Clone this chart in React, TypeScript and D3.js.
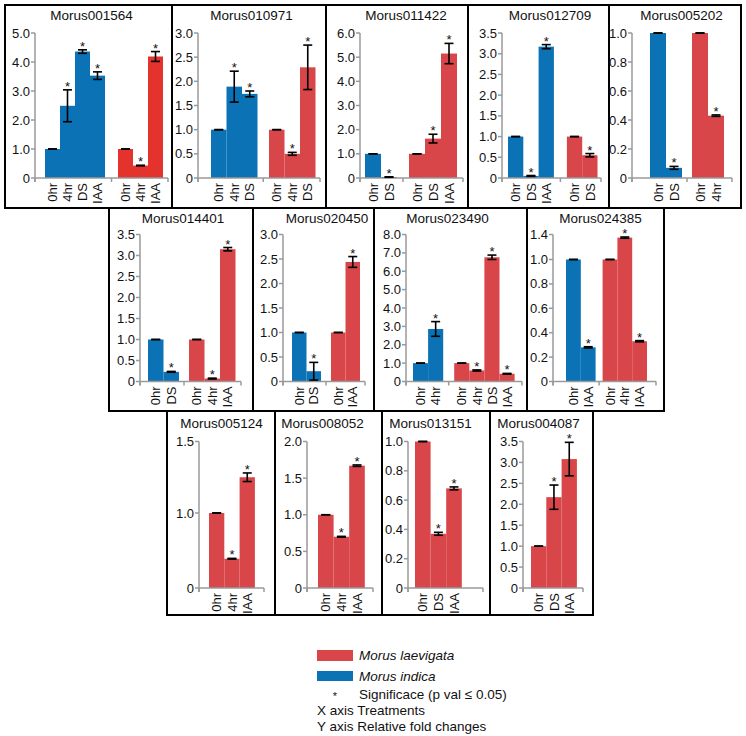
import React from 'react';
import * as d3 from 'd3';

// ---------- DATA ----------
const genes = [
  'Morus001564', 'Morus010971', 'Morus011422', 'Morus012709', 'Morus005202',
  'Morus014401', 'Morus020450', 'Morus023490', 'Morus024385',
  'Morus005124', 'Morus008052', 'Morus013151', 'Morus004087',
];

const indicaLabels = [
  ['0hr', '4hr', 'DS', 'IAA'], ['0hr', '4hr', 'DS'], ['0hr', 'DS'], ['0hr', 'DS', 'IAA'], ['0hr', 'DS'],
  ['0hr', 'DS'], ['0hr', 'DS'], ['0hr', '4hr'], ['0hr', 'IAA'],
  [], [], [], [],
];
const indicaValues = [
  [1.0, 2.49, 4.36, 3.53], [1.0, 1.89, 1.74], [1.0, 0.04], [1.0, 0.05, 3.17], [1.0, 0.07],
  [1.0, 0.23], [1.0, 0.21], [1.0, 2.86], [1.0, 0.28],
  [], [], [], [],
];
const indicaErrors = [
  [0, 0.55, 0.06, 0.13], [0, 0.32, 0.06], [0, 0.01], [0, 0.01, 0.05], [0, 0.01],
  [0, 0.01], [0, 0.18], [0, 0.4], [0, 0.005],
  [], [], [], [],
];

const laevigataLabels = [
  ['0hr', '4hr', 'IAA'], ['0hr', '4hr', 'DS'], ['0hr', 'DS', 'IAA'], ['0hr', 'DS'], ['0hr', '4hr'],
  ['0hr', '4hr', 'IAA'], ['0hr', 'IAA'], ['0hr', '4hr', 'DS', 'IAA'], ['0hr', '4hr', 'IAA'],
  ['0hr', '4hr', 'IAA'], ['0hr', '4hr', 'IAA'], ['0hr', 'DS', 'IAA'], ['0hr', 'DS', 'IAA'],
];
const laevigataValues = [
  [1.0, 0.43, 4.19], [1.0, 0.5, 2.29], [1.0, 1.63, 5.15], [1.0, 0.55], [1.0, 0.43],
  [1.0, 0.07, 3.15], [1.0, 2.44], [1.0, 0.6, 6.76, 0.42], [1.0, 1.35, 0.33],
  [1.0, 0.39, 1.25], [1.0, 0.7, 1.67], [1.0, 0.37, 0.68], [1.0, 2.17, 3.08],
];
const laevigataErrors = [
  [0, 0.01, 0.17], [0, 0.03, 0.46], [0, 0.18, 0.42], [0, 0.04], [0, 0.005],
  [0, 0.01, 0.04], [0, 0.11], [0, 0.03, 0.12, 0.02], [0, 0.01, 0.005],
  [0, 0.005, 0.03], [0, 0.005, 0.01], [0, 0.01, 0.01], [0, 0.29, 0.4],
];

const yTicks = [
  [0, 1, 2, 3, 4, 5],
  [0, 0.5, 1, 1.5, 2, 2.5, 3],
  [0, 1, 2, 3, 4, 5, 6],
  [0, 0.5, 1, 1.5, 2, 2.5, 3, 3.5],
  [0, 0.2, 0.4, 0.6, 0.8, 1.0],
  [0, 0.5, 1, 1.5, 2, 2.5, 3, 3.5],
  [0, 0.5, 1, 1.5, 2, 2.5, 3],
  [0, 1, 2, 3, 4, 5, 6, 7, 8],
  [0, 0.2, 0.4, 0.6, 0.8, 1.0, 1.4],
  [0, 1.0, 1.5],
  [0, 0.5, 1, 1.5, 2],
  [0, 0.2, 0.4, 0.6, 0.8, 1.0],
  [0, 0.5, 1, 1.5, 2, 2.5, 3, 3.5],
];

const legendLabels = ['Morus laevigata', 'Morus indica'];
const notes = ['Significace (p val \u2264 0.05)', 'X axis Treatments', 'Y axis Relative fold changes'];

// ---------- LAYOUT ----------
const BLUE = '#0b72b5';
const RED = '#d8464a';
const RED_BRIGHT = '#e3332c';
const AXIS = '#9a9a9a';
const FONT = 'Liberation Sans, Arial, Helvetica, sans-serif';

const rows = [
  { top: 5, bottom: 208, zero: 178, topTick: 33, titleY: 20 },
  { top: 208, bottom: 411, zero: 381.5, topTick: 234.5, titleY: 223 },
  { top: 411, bottom: 615, zero: 588, topTick: 441.5, titleY: 428 },
];

type Lay = {
  row: number; x0: number; x1: number; axisX: number; axisEnd: number;
  firstBar: number; barW: number; gap: number; titleX: number; red?: string; breakFrac?: number;
};

const layout: Lay[] = [
  { row: 0, x0: 5, x1: 172, axisX: 35, axisEnd: 168, firstBar: 45, barW: 15, gap: 13, titleX: 91.5, red: RED_BRIGHT },
  { row: 0, x0: 172, x1: 326, axisX: 198, axisEnd: 320, firstBar: 211, barW: 15.5, gap: 11.5, titleX: 251.5 },
  { row: 0, x0: 326, x1: 468, axisX: 360, axisEnd: 463, firstBar: 365, barW: 16, gap: 12, titleX: 406 },
  { row: 0, x0: 468, x1: 609, axisX: 502, axisEnd: 601, firstBar: 508, barW: 15.3, gap: 13, titleX: 550 },
  { row: 0, x0: 609, x1: 741, axisX: 632, axisEnd: 732, firstBar: 650, barW: 16, gap: 10, titleX: 681.5 },
  { row: 1, x0: 109, x1: 253, axisX: 140, axisEnd: 241, firstBar: 148, barW: 15.5, gap: 10, titleX: 183 },
  { row: 1, x0: 253, x1: 374, axisX: 283, axisEnd: 365, firstBar: 292, barW: 14.5, gap: 10, titleX: 327 },
  { row: 1, x0: 374, x1: 527, axisX: 406, axisEnd: 522, firstBar: 413, barW: 15.1, gap: 11, titleX: 447.5 },
  { row: 1, x0: 527, x1: 664, axisX: 553, axisEnd: 656, firstBar: 566, barW: 14.8, gap: 7, titleX: 600.5, breakFrac: 0.83 },
  { row: 2, x0: 167, x1: 275, axisX: 199, axisEnd: 264, firstBar: 209, barW: 15.3, gap: 0, titleX: 221.5, breakFrac: 0.512 },
  { row: 2, x0: 275, x1: 382, axisX: 307, axisEnd: 373, firstBar: 318, barW: 15.6, gap: 0, titleX: 322.5 },
  { row: 2, x0: 382, x1: 490, axisX: 408, axisEnd: 483, firstBar: 415, barW: 15.6, gap: 0, titleX: 430.5 },
  { row: 2, x0: 490, x1: 593, axisX: 523, axisEnd: 583, firstBar: 531, barW: 15.3, gap: 0, titleX: 538.5 },
];

const fmt = (v: number) => (v === 0 ? '0' : d3.format('.1f')(v));

function Panel({ i }: { i: number }) {
  const L = layout[i];
  const R = rows[L.row];
  const ticks = yTicks[i];
  const yMax = ticks[ticks.length - 1];
  let y: d3.ScaleLinear<number, number>;
  if (L.breakFrac) {
    y = d3.scaleLinear()
      .domain([0, 1, yMax])
      .range([R.zero, R.zero - L.breakFrac * (R.zero - R.topTick), R.topTick]);
  } else {
    y = d3.scaleLinear().domain([0, yMax]).range([R.zero, R.topTick]);
  }

  const groups = [
    { labels: indicaLabels[i], values: indicaValues[i], errors: indicaErrors[i], color: BLUE },
    { labels: laevigataLabels[i], values: laevigataValues[i], errors: laevigataErrors[i], color: L.red || RED },
  ].filter(g => g.labels.length > 0);

  const slot = d3.scaleLinear().domain([0, 1]).range([L.firstBar, L.firstBar + L.barW]);
  const bars: any[] = [];
  const seps: number[] = [];
  let idx = 0;
  groups.forEach((g, gi) => {
    const offset = gi * L.gap;
    if (gi > 0) seps.push(slot(idx) + offset - L.gap / 2);
    g.labels.forEach((lab, k) => {
      const x = slot(idx) + offset;
      bars.push({ x, w: L.barW, v: g.values[k], e: g.errors[k], lab, color: g.color, sig: lab !== '0hr' });
      idx++;
    });
  });

  const xTicks = [L.axisX, ...seps, L.axisEnd];

  return (
    <g>
      <rect x={L.x0} y={R.top} width={L.x1 - L.x0} height={R.bottom - R.top} fill="none" stroke="#000" strokeWidth={2} />
      <text x={L.titleX} y={R.titleY} textAnchor="middle" fontSize={13.5} fontFamily={FONT} fill="#111">{genes[i]}</text>
      {bars.map((b, k) => (
        <rect key={'b' + k} x={b.x} y={y(b.v)} width={b.w} height={R.zero - y(b.v)} fill={b.color} />
      ))}
      <line x1={L.axisX} x2={L.axisX} y1={R.topTick} y2={R.zero + 4} stroke={AXIS} strokeWidth={1.5} />
      <line x1={L.axisX} x2={L.axisEnd} y1={R.zero} y2={R.zero} stroke={AXIS} strokeWidth={1.5} />
      {xTicks.map((t, k) => (
        <line key={'xt' + k} x1={t} x2={t} y1={R.zero} y2={R.zero + 4} stroke={AXIS} strokeWidth={1.5} />
      ))}
      {ticks.map((t, k) => (
        <g key={'yt' + k}>
          <line x1={L.axisX - 4} x2={L.axisX} y1={y(t)} y2={y(t)} stroke={AXIS} strokeWidth={1.5} />
          <text x={L.axisX - 5} y={y(t)} dy="0.35em" textAnchor="end" fontSize={13} fontFamily={FONT} fill="#111">{fmt(t)}</text>
        </g>
      ))}
      {bars.map((b, k) => {
        const cx = b.x + b.w / 2;
        const yt = y(b.v + b.e);
        const yb = y(Math.max(0, b.v - b.e));
        return (
          <g key={'e' + k} stroke="#000" strokeWidth={1.6}>
            {b.e > 0 && <line x1={cx} x2={cx} y1={yt} y2={yb} />}
            <line x1={cx - 4.5} x2={cx + 4.5} y1={yt} y2={yt} />
            <line x1={cx - 4.5} x2={cx + 4.5} y1={yb} y2={yb} />
          </g>
        );
      })}
      {bars.filter(b => b.sig).map((b, k) => (
        <text key={'s' + k} x={b.x + b.w / 2} y={y(b.v + b.e) + 1} textAnchor="middle" fontSize={13} fontFamily={FONT} fill="#111">*</text>
      ))}
      {bars.map((b, k) => (
        <text key={'l' + k} transform={`translate(${b.x + b.w / 2},${R.zero + 5}) rotate(-90)`} dy="0.36em" textAnchor="end" fontSize={13} fontFamily={FONT} fill="#111">{b.lab}</text>
      ))}
    </g>
  );
}

export default function App() {
  return (
    <svg width={746} height={736} style={{ position: 'absolute', left: 0, top: 0, background: '#fff' }}>
      <rect x={0} y={0} width={746} height={736} fill="#fff" />
      {genes.map((_, i) => <Panel key={i} i={i} />)}
      <rect x={317} y={650} width={36} height={11} fill={RED} />
      <rect x={317} y={671} width={36} height={10} fill={BLUE} />
      <text x={359} y={660} fontSize={13.5} fontStyle="italic" fontFamily={FONT} fill="#111">{legendLabels[0]}</text>
      <text x={359} y={681} fontSize={13.5} fontStyle="italic" fontFamily={FONT} fill="#111">{legendLabels[1]}</text>
      <text x={335} y={700} fontSize={11} textAnchor="middle" fontFamily={FONT} fill="#111">*</text>
      <text x={359} y={699} fontSize={13.5} fontFamily={FONT} fill="#111">{notes[0]}</text>
      <text x={317} y={715} fontSize={13.5} fontFamily={FONT} fill="#111">{notes[1]}</text>
      <text x={317} y={731} fontSize={13.5} fontFamily={FONT} fill="#111">{notes[2]}</text>
    </svg>
  );
}
